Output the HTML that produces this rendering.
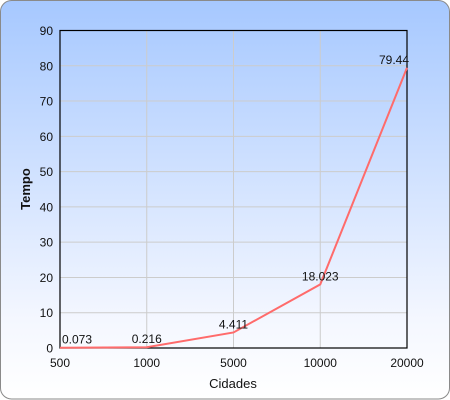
<!DOCTYPE html>
<html><head><meta charset="utf-8"><style>
html,body{margin:0;padding:0;background:#fff}
svg{display:block;font-family:"Liberation Sans","DejaVu Sans",sans-serif}
</style></head><body>
<svg id="chart" width="450" height="400">
<defs><linearGradient id="bg" x1="0" y1="0" x2="0" y2="1">
<stop offset="0" stop-color="#a6c8ff"/><stop offset="0.8" stop-color="#f4f7ff"/><stop offset="1" stop-color="#ffffff"/></linearGradient></defs>
<rect x="0.5" y="0.5" width="449" height="398.5" rx="11" fill="url(#bg)" stroke="#8a8a8a"/>
<g id="grid"></g><g id="axes"></g><g id="series"></g>
<text x="233" y="388" text-anchor="middle" font-size="13" fill="#111">Cidades</text>
<text transform="translate(30,189) rotate(-90)" text-anchor="middle" font-size="13" font-weight="bold" fill="#111">Tempo</text>
</svg>
<script>
const categories=["500","1000","5000","10000","20000"];
const values=[0.073,0.216,4.411,18.023,79.44];
const labels=["0.073","0.216","4.411","18.023","79.44"];
const yTicks=[0,10,20,30,40,50,60,70,80,90];
const L=60,R=407,T=30.5,B=348,YMAX=90;
const x=i=>L+i*(R-L)/(categories.length-1);
const y=v=>B-v/YMAX*(B-T);
const NS="http://www.w3.org/2000/svg";
function mk(t,a,p){const e=document.createElementNS(NS,t);for(const k in a)e.setAttribute(k,a[k]);p.appendChild(e);return e;}
const g=document.getElementById('grid'),ax=document.getElementById('axes'),s=document.getElementById('series');
yTicks.forEach(v=>{
 const ln=mk('line',{x1:L,x2:R,y1:y(v),y2:y(v),stroke:'#cccccc'},g);
 
 
 const t=mk('text',{x:L-7,y:y(v)+4.5,'text-anchor':'end','font-size':'12',fill:'#111'},ax);t.textContent=v;
 
 
});
categories.forEach((c,i)=>{
 const ln=mk('line',{x1:x(i),x2:x(i),y1:T,y2:B,stroke:'#cccccc'},g);
 
 
 const t=mk('text',{x:x(i),y:B+19,'text-anchor':'middle','font-size':'12',fill:'#111'},ax);t.textContent=c;
 
 
});
const fr=mk('rect',{x:L,y:T,width:R-L,height:B-T,fill:'none',stroke:'#000','stroke-width':'1.2'},ax);


const pl=mk('polyline',{points:values.map((v,i)=>x(i)+','+y(v)).join(' '),fill:'none',stroke:'#ff6b6b','stroke-width':'2'},s);


values.forEach((v,i)=>{
 let anchor='middle',xx=x(i);
 if(i===0){anchor='start';xx=x(i)+2;}
 if(i===values.length-1){anchor='end';xx=x(i)+2;}
 const t=mk('text',{x:xx,y:y(v)-4,'text-anchor':anchor,'font-size':'12',fill:'#111'},s);t.textContent=labels[i];
 
 
});
</script>
</body></html>
